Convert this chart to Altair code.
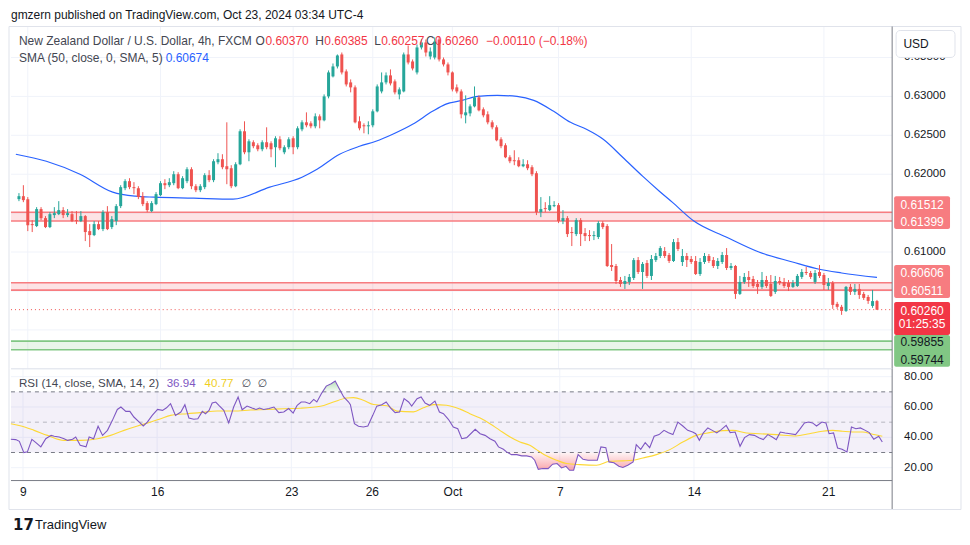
import altair as alt
import pandas as pd

# ---------------- data ----------------
opens = [
    0.61680, 0.61718, 0.61680, 0.61359, 0.61334, 0.61552, 0.61436, 0.61321, 0.61475, 0.61487,
    0.61539, 0.61475, 0.61487, 0.61410, 0.61398, 0.61462, 0.61269, 0.61218, 0.61359, 0.61295,
    0.61513, 0.61321, 0.61398, 0.61590, 0.61821, 0.61911, 0.61834, 0.61821, 0.61718, 0.61629,
    0.61526, 0.61616, 0.61731, 0.61885, 0.61859, 0.61885, 0.62000, 0.61821, 0.61911, 0.62064,
    0.61846, 0.61795, 0.61834, 0.61988, 0.61924, 0.62154, 0.62193, 0.62103, 0.62077, 0.61846,
    0.62128, 0.62552, 0.62282, 0.62411, 0.62372, 0.62321, 0.62411, 0.62398, 0.62347, 0.62449,
    0.62282, 0.62347, 0.62462, 0.62347, 0.62577, 0.62667, 0.62654, 0.62616, 0.62744, 0.62693,
    0.63000, 0.63257, 0.63385, 0.63539, 0.63321, 0.63180, 0.63116, 0.62680, 0.62629, 0.62616,
    0.62629, 0.62808, 0.63064, 0.63180, 0.63270, 0.63193, 0.63026, 0.63064, 0.63539, 0.63449,
    0.63308, 0.63629, 0.63693, 0.63513, 0.63500, 0.63731, 0.63475, 0.63411, 0.63308, 0.63116,
    0.63064, 0.62757, 0.62782, 0.62872, 0.62988, 0.62834, 0.62770, 0.62667, 0.62603, 0.62449,
    0.62372, 0.62218, 0.62180, 0.62180, 0.62103, 0.62128, 0.62090, 0.62013, 0.61513, 0.61565,
    0.61539, 0.61590, 0.61603, 0.61398, 0.61436, 0.61257, 0.61231, 0.61410, 0.61244, 0.61218,
    0.61205, 0.61193, 0.61372, 0.61334, 0.60834, 0.60821, 0.60641, 0.60590, 0.60616, 0.60667,
    0.60897, 0.60744, 0.60859, 0.60693, 0.60897, 0.60949, 0.61013, 0.60962, 0.60885, 0.61128,
    0.60872, 0.60949, 0.60911, 0.60885, 0.60718, 0.60872, 0.60949, 0.60897, 0.60821, 0.60872,
    0.60962, 0.60795, 0.60821, 0.60462, 0.60616, 0.60680, 0.60654, 0.60590, 0.60552, 0.60641,
    0.60590, 0.60488, 0.60628, 0.60616, 0.60603, 0.60552, 0.60564, 0.60680, 0.60744, 0.60731,
    0.60616, 0.60744, 0.60705, 0.60564, 0.60603, 0.60334, 0.60296, 0.60244, 0.60552, 0.60488,
    0.60526, 0.60462, 0.60423, 0.60308, 0.60370,
]
highs = [
    0.61757, 0.61859, 0.61706, 0.61410, 0.61577, 0.61577, 0.61462, 0.61513, 0.61577, 0.61654,
    0.61577, 0.61552, 0.61526, 0.61526, 0.61526, 0.61475, 0.61359, 0.61398, 0.61398, 0.61539,
    0.61590, 0.61462, 0.61616, 0.61859, 0.61936, 0.61949, 0.61898, 0.61846, 0.61770, 0.61654,
    0.61654, 0.61770, 0.61911, 0.61936, 0.61949, 0.62039, 0.62026, 0.61975, 0.62090, 0.62090,
    0.61872, 0.61872, 0.62013, 0.62052, 0.62193, 0.62270, 0.62257, 0.62667, 0.62116, 0.62154,
    0.62577, 0.62680, 0.62449, 0.62436, 0.62398, 0.62436, 0.62603, 0.62423, 0.62488, 0.62488,
    0.62372, 0.62475, 0.62488, 0.62616, 0.62693, 0.62795, 0.62680, 0.62782, 0.62769, 0.63026,
    0.63334, 0.63423, 0.63539, 0.63564, 0.63347, 0.63218, 0.63141, 0.62744, 0.62654, 0.62680,
    0.62834, 0.63154, 0.63308, 0.63308, 0.63347, 0.63218, 0.63116, 0.63564, 0.63654, 0.63475,
    0.63667, 0.63731, 0.63731, 0.63629, 0.63757, 0.63770, 0.63500, 0.63436, 0.63321, 0.63154,
    0.63090, 0.63013, 0.62898, 0.63128, 0.63013, 0.62859, 0.62808, 0.62693, 0.62629, 0.62475,
    0.62398, 0.62244, 0.62308, 0.62218, 0.62193, 0.62180, 0.62116, 0.62039, 0.61706, 0.61641,
    0.61718, 0.61654, 0.61629, 0.61539, 0.61462, 0.61321, 0.61436, 0.61436, 0.61308, 0.61282,
    0.61269, 0.61398, 0.61398, 0.61359, 0.61103, 0.60847, 0.60680, 0.60693, 0.60718, 0.60923,
    0.60936, 0.60872, 0.60897, 0.60962, 0.60988, 0.61077, 0.61064, 0.60988, 0.61167, 0.61180,
    0.61039, 0.60988, 0.60949, 0.60949, 0.60923, 0.60988, 0.60975, 0.60936, 0.60923, 0.61000,
    0.61051, 0.60859, 0.60834, 0.60693, 0.60731, 0.60757, 0.60693, 0.60641, 0.60744, 0.60693,
    0.60705, 0.60693, 0.60680, 0.60667, 0.60641, 0.60641, 0.60718, 0.60782, 0.60808, 0.60757,
    0.60769, 0.60834, 0.60731, 0.60667, 0.60628, 0.60360, 0.60321, 0.60564, 0.60590, 0.60590,
    0.60590, 0.60488, 0.60449, 0.60513, 0.60385,
]
lows = [
    0.61654, 0.61641, 0.61269, 0.61257, 0.61321, 0.61410, 0.61308, 0.61308, 0.61436, 0.61475,
    0.61436, 0.61449, 0.61385, 0.61359, 0.61385, 0.61141, 0.61064, 0.61205, 0.61282, 0.61269,
    0.61282, 0.61295, 0.61346, 0.61565, 0.61795, 0.61808, 0.61744, 0.61680, 0.61590, 0.61513,
    0.61513, 0.61603, 0.61718, 0.61808, 0.61834, 0.61859, 0.61808, 0.61808, 0.61885, 0.61808,
    0.61770, 0.61770, 0.61808, 0.61898, 0.61898, 0.62128, 0.62064, 0.61872, 0.61821, 0.61834,
    0.62116, 0.62257, 0.62167, 0.62334, 0.62295, 0.62295, 0.62321, 0.62218, 0.62090, 0.62308,
    0.62257, 0.62321, 0.62257, 0.62321, 0.62552, 0.62603, 0.62590, 0.62590, 0.62590, 0.62680,
    0.62975, 0.63244, 0.63359, 0.63282, 0.63128, 0.63052, 0.62654, 0.62564, 0.62526, 0.62513,
    0.62603, 0.62795, 0.63039, 0.63154, 0.63141, 0.63026, 0.62962, 0.63052, 0.63411, 0.63334,
    0.63282, 0.63603, 0.63513, 0.63475, 0.63475, 0.63449, 0.63385, 0.63270, 0.63064, 0.63039,
    0.62718, 0.62654, 0.62744, 0.62859, 0.62808, 0.62731, 0.62641, 0.62577, 0.62423, 0.62334,
    0.62206, 0.62142, 0.62116, 0.62090, 0.62090, 0.62052, 0.61975, 0.61475, 0.61449, 0.61513,
    0.61526, 0.61577, 0.61372, 0.61359, 0.61193, 0.61077, 0.61205, 0.61077, 0.61141, 0.61141,
    0.61154, 0.61167, 0.61295, 0.60808, 0.60757, 0.60590, 0.60552, 0.60526, 0.60577, 0.60641,
    0.60718, 0.60526, 0.60667, 0.60641, 0.60872, 0.60923, 0.60923, 0.60859, 0.60872, 0.61013,
    0.60821, 0.60808, 0.60847, 0.60705, 0.60693, 0.60847, 0.60859, 0.60795, 0.60782, 0.60847,
    0.60769, 0.60769, 0.60398, 0.60449, 0.60590, 0.60552, 0.60539, 0.60462, 0.60526, 0.60539,
    0.60423, 0.60462, 0.60577, 0.60539, 0.60500, 0.60539, 0.60552, 0.60654, 0.60705, 0.60654,
    0.60590, 0.60667, 0.60513, 0.60513, 0.60270, 0.60270, 0.60193, 0.60231, 0.60449, 0.60449,
    0.60398, 0.60385, 0.60334, 0.60283, 0.60257,
]
closes = [
    0.61718, 0.61667, 0.61346, 0.61346, 0.61552, 0.61436, 0.61321, 0.61487, 0.61500, 0.61539,
    0.61475, 0.61500, 0.61398, 0.61398, 0.61462, 0.61257, 0.61218, 0.61359, 0.61295, 0.61513,
    0.61295, 0.61423, 0.61590, 0.61834, 0.61911, 0.61834, 0.61821, 0.61706, 0.61616, 0.61539,
    0.61629, 0.61744, 0.61885, 0.61859, 0.61898, 0.62000, 0.61821, 0.61949, 0.62064, 0.61846,
    0.61795, 0.61846, 0.61988, 0.61924, 0.62167, 0.62193, 0.62090, 0.62064, 0.61846, 0.62128,
    0.62552, 0.62282, 0.62423, 0.62360, 0.62321, 0.62411, 0.62347, 0.62321, 0.62462, 0.62334,
    0.62347, 0.62449, 0.62347, 0.62590, 0.62667, 0.62629, 0.62616, 0.62744, 0.62693, 0.63000,
    0.63308, 0.63385, 0.63526, 0.63308, 0.63154, 0.63116, 0.62667, 0.62590, 0.62616, 0.62629,
    0.62808, 0.63128, 0.63180, 0.63270, 0.63167, 0.63052, 0.63090, 0.63539, 0.63436, 0.63359,
    0.63629, 0.63693, 0.63564, 0.63577, 0.63705, 0.63475, 0.63411, 0.63308, 0.63090, 0.63064,
    0.62770, 0.62795, 0.62872, 0.62988, 0.62821, 0.62757, 0.62667, 0.62603, 0.62436, 0.62360,
    0.62218, 0.62167, 0.62167, 0.62103, 0.62128, 0.62077, 0.62000, 0.61513, 0.61552, 0.61552,
    0.61603, 0.61603, 0.61398, 0.61436, 0.61231, 0.61244, 0.61410, 0.61231, 0.61205, 0.61205,
    0.61218, 0.61372, 0.61321, 0.60821, 0.60808, 0.60628, 0.60590, 0.60628, 0.60680, 0.60897,
    0.60744, 0.60847, 0.60693, 0.60911, 0.60949, 0.61051, 0.60949, 0.60885, 0.61128, 0.61039,
    0.60949, 0.60897, 0.60872, 0.60718, 0.60872, 0.60949, 0.60885, 0.60821, 0.60885, 0.60962,
    0.60795, 0.60821, 0.60462, 0.60616, 0.60680, 0.60641, 0.60564, 0.60552, 0.60641, 0.60564,
    0.60436, 0.60628, 0.60603, 0.60564, 0.60552, 0.60603, 0.60693, 0.60744, 0.60731, 0.60680,
    0.60731, 0.60693, 0.60577, 0.60603, 0.60321, 0.60296, 0.60244, 0.60552, 0.60488, 0.60526,
    0.60449, 0.60411, 0.60372, 0.60370, 0.60260,
]

# SMA(50) read at candle positions
sma_idx = [-0.7, 6.2, 13.8, 21.2, 26.3, 30.6, 39.5, 48.4, 56.7, 64.0, 67.4, 72.5, 77.0, 80.7,
           84.5, 89.0, 93.5, 96.4, 100.2, 103.7, 108.2, 112.6, 116.4, 120.9, 124.7, 128.3,
           132.1, 136.5, 141.0, 144.8, 147.7, 152.6, 159.9, 167.3, 174.9, 180.7, 186.0, 194.0]
sma_val = [0.62257, 0.62167, 0.62000, 0.61770, 0.61718, 0.61705, 0.61693, 0.61680, 0.61834,
           0.61962, 0.62064, 0.62257, 0.62359, 0.62423, 0.62513, 0.62641, 0.62808, 0.62898,
           0.62949, 0.63000, 0.63013, 0.63000, 0.62949, 0.62808, 0.62667, 0.62577, 0.62449,
           0.62218, 0.61975, 0.61782, 0.61641, 0.61398, 0.61193, 0.61000, 0.60872, 0.60782,
           0.60731, 0.60674]

# RSI(14)
rsi_idx = [-0.7, 0.4, 1.2, 2.2, 3.0, 4.0, 4.9, 6.0, 7.1, 8.3, 9.0, 10.1, 11.2, 12.0, 13.1, 13.8,
           14.8, 16.1, 16.8, 17.8, 18.8, 19.8, 20.9, 22.0, 23.1, 23.9, 25.0, 25.9, 26.8, 28.0,
           28.9, 29.8, 30.9, 32.1, 33.2, 34.1, 35.0, 36.1, 37.3, 38.2, 39.1, 40.2, 41.1, 42.1,
           42.8, 43.6, 44.3, 45.1, 45.8, 46.9, 48.0, 49.1, 50.1, 51.0, 52.1, 53.2, 54.1, 54.9,
           55.8, 57.0, 58.1, 59.2, 60.3, 61.4, 62.4, 63.3, 64.2, 65.1, 66.1, 67.0, 67.7, 68.7,
           69.8, 70.9, 71.8, 72.8, 73.7, 74.8, 75.2, 76.1, 77.0, 78.1, 79.1, 80.2, 81.1, 82.2,
           83.2, 84.2, 85.2, 86.2, 87.2, 88.2, 88.9, 90.1, 91.0, 91.9, 92.9, 94.1, 95.1, 96.0,
           97.1, 98.2, 99.2, 100.1, 101.2, 103.1, 104.2, 105.3, 106.4, 107.5, 108.3, 109.4,
           110.1, 111.2, 112.4, 113.5, 114.6, 115.7, 116.4, 117.2, 118.2, 119.4, 120.4, 121.4,
           122.4, 123.4, 124.2, 125.1, 126.1, 127.2, 128.3, 129.4, 130.4, 131.2, 132.3, 133.0,
           134.1, 135.2, 136.1, 137.2, 138.4, 139.1, 140.1, 141.1, 142.1, 143.1, 144.2, 145.3,
           146.3, 147.3, 148.4, 149.5, 150.6, 151.7, 152.4, 153.2, 154.1, 155.1, 156.1, 157.1,
           158.1, 159.2, 160.1, 161.2, 162.3, 163.3, 164.4, 165.5, 166.6, 167.5, 168.5, 169.5,
           170.4, 171.3, 172.4, 173.5, 174.7, 175.6, 176.7, 177.6, 178.5, 179.4, 180.6, 181.5,
           182.2, 183.2, 184.1, 185.1, 186.2, 187.2, 188.2, 189.2, 190.3, 191.2, 192.2, 193.3,
           194.1]
rsi_val = [38.7, 38.5, 37.4, 29.9, 30.4, 38.7, 36.5, 33.7, 39.1, 41.3, 40.7, 40.2, 39.1, 38.0,
           38.7, 40.2, 34.8, 33.7, 40.2, 39.1, 47.3, 41.3, 44.6, 51.2, 58.4, 60.0, 57.1, 57.1,
           53.4, 50.1, 47.5, 50.1, 54.5, 58.4, 57.8, 59.5, 62.2, 54.5, 56.7, 61.5, 52.8, 51.9,
           52.3, 57.1, 55.6, 57.8, 62.6, 63.3, 61.1, 57.8, 49.5, 60.0, 66.6, 58.2, 60.6, 59.3,
           58.4, 59.3, 58.4, 59.0, 60.0, 56.3, 56.7, 59.0, 56.0, 61.1, 63.3, 63.3, 62.2, 65.0,
           63.3, 68.8, 73.8, 75.3, 77.1, 71.6, 66.6, 63.3, 61.5, 49.0, 47.3, 46.8, 47.5, 54.5,
           60.6, 61.5, 63.3, 59.3, 56.3, 56.7, 65.5, 63.3, 60.6, 65.5, 66.6, 62.6, 61.1, 63.9,
           56.7, 55.6, 51.9, 46.8, 45.7, 39.1, 39.8, 45.3, 42.4, 41.3, 39.1, 37.4, 33.7, 32.1,
           30.4, 28.6, 28.6, 27.8, 27.8, 27.1, 24.9, 18.9, 19.4, 19.4, 22.3, 22.7, 19.8, 20.9,
           18.3, 18.3, 28.6, 25.5, 24.9, 24.9, 24.9, 33.7, 33.2, 23.8, 23.2, 20.9, 20.1, 21.6,
           23.8, 35.2, 32.1, 36.5, 33.2, 40.7, 41.8, 44.6, 43.1, 41.8, 50.1, 47.5, 44.6, 43.5,
           42.4, 38.0, 42.9, 46.2, 44.6, 42.9, 45.1, 47.9, 43.1, 43.5, 34.1, 39.8, 41.8, 41.3,
           39.6, 38.5, 41.8, 40.2, 38.5, 43.5, 42.9, 42.4, 41.8, 45.1, 49.5, 50.1, 49.5, 47.5,
           50.1, 49.5, 42.4, 42.9, 33.0, 32.1, 30.4, 46.8, 45.7, 46.2, 44.6, 43.1, 38.7, 40.7,
           36.94]

# RSI-based moving average
rsima_idx = [-0.7, 1.6, 4.5, 7.5, 11.2, 14.9, 18.7, 21.6, 24.6, 27.6, 30.6, 32.8, 35.0, 38.7,
             41.7, 45.4, 49.1, 52.9, 56.6, 60.3, 64.0, 68.5, 71.4, 74.4, 75.9, 78.1, 80.4,
             83.4, 85.6, 89.3, 91.5, 93.8, 96.7, 99.7, 101.9, 104.2, 106.4, 108.6, 110.9,
             113.1, 115.3, 116.8, 119.0, 121.3, 123.5, 126.5, 130.2, 133.2, 136.1, 138.4,
             140.6, 143.6, 146.6, 149.5, 152.5, 155.5, 158.4, 160.7, 163.7, 166.6, 170.4,
             174.8, 177.8, 180.7, 183.0, 185.2, 187.4, 189.7, 191.9, 194.1]
rsima_val = [49.0, 47.5, 44.6, 41.3, 38.0, 38.0, 39.1, 41.3, 44.6, 47.5, 50.1, 52.3, 54.5, 55.6,
             56.3, 57.4, 57.4, 58.0, 58.4, 58.9, 59.2, 60.5, 63.3, 65.9, 66.2, 64.5, 61.6,
             60.8, 57.3, 56.8, 59.5, 61.6, 61.2, 58.6, 55.6, 52.7, 49.0, 44.6, 40.2, 36.9,
             34.8, 31.9, 27.8, 24.9, 22.7, 22.0, 21.6, 24.2, 24.5, 24.9, 26.4, 28.6, 31.9,
             36.9, 41.3, 43.1, 44.4, 44.6, 42.9, 42.4, 41.8, 40.9, 42.4, 44.0, 44.6, 44.0,
             43.5, 43.5, 42.0, 40.77]

tick_idx = [2, 32, 62, 80, 98, 122, 152, 182]
tick_lab = ["9", "16", "23", "26", "Oct", "7", "14", "21"]

price_grid = [0.595, 0.600, 0.605, 0.610, 0.615, 0.620, 0.625, 0.630, 0.635]
price_labels = [0.610, 0.620, 0.625, 0.630, 0.635]
rsi_grid = [20, 40, 60, 80]

red_zone_lo = [0.61399, 0.60511]
red_zone_hi = [0.61512, 0.60606]
green_zone_lo = [0.59744]
green_zone_hi = [0.59855]
last_price = closes[-1]
countdown = "01:25:35"

# ---------------- styling ----------------
FONT = "Liberation Sans"
UP, DOWN = "#26a69a", "#ef5350"
GRID = "#f0f3fa"
BORDER = "#e0e3eb"
AXLINE = "#787b86"
TXT = "#131722"
W, H1, H2 = 883, 343, 112
XS = alt.Scale(domain=[-0.67, 196.3], nice=False, zero=False)
PS = alt.Scale(domain=[0.595, 0.63898], nice=False, zero=False)
RS = alt.Scale(domain=[11.5, 85.2], nice=False, zero=False)
ONE = pd.DataFrame({"k": [0]})


def txt(s, x, y, color=TXT, size=12, align="left", baseline="middle", weight="normal", font=FONT):
    return alt.Chart(ONE).mark_text(text=s, align=align, baseline=baseline, font=font,
                                    fontSize=size, color=color, fontWeight=weight).encode(
        x=alt.value(x), y=alt.value(y))


def hline(x1, x2, y, color, width=1):
    return alt.Chart(ONE).mark_rule(color=color, strokeWidth=width).encode(
        x=alt.value(x1), x2=alt.value(x2), y=alt.value(y))


def vline(x, y1, y2, color, width=1):
    return alt.Chart(ONE).mark_rule(color=color, strokeWidth=width).encode(
        x=alt.value(x), y=alt.value(y1), y2=alt.value(y2))


def price_box(p_top, p_bot, off_top, off_bot, fill):
    d = pd.DataFrame({"a": [p_top], "b": [p_bot]})
    return alt.Chart(d).mark_rect(color=fill, yOffset=off_top, y2Offset=off_bot, cornerRadius=2).encode(
        x=alt.value(885), x2=alt.value(941), y=alt.Y("a:Q", scale=PS, axis=None), y2="b:Q")


def price_tag(p, dy, s, color="white"):
    d = pd.DataFrame({"p": [p]})
    return alt.Chart(d).mark_text(text=s, dy=dy, align="center", baseline="middle", font=FONT,
                                  fontSize=12, color=color).encode(
        x=alt.value(913), y=alt.Y("p:Q", scale=PS, axis=None))


# ---------------- price pane ----------------
XP = alt.X("idx:Q", scale=XS, axis=None)

pgrid = alt.Chart(pd.DataFrame({"p": price_grid})).mark_rule(color=GRID).encode(
    y=alt.Y("p:Q", scale=PS, axis=None), x=alt.value(0), x2=alt.value(W))
vgrid_p = alt.Chart(pd.DataFrame({"idx": tick_idx})).mark_rule(color=GRID).encode(
    x=XP, y=alt.value(0), y2=alt.value(H1))
plab_df = pd.DataFrame({"p": price_labels, "lab": [f"{v:.5f}" for v in price_labels]})
plabels = alt.Chart(plab_df).mark_text(align="left", baseline="middle", font=FONT, fontSize=11.5,
                                       color=TXT).encode(
    x=alt.value(895), y=alt.Y("p:Q", scale=PS, axis=None), text="lab:N")

rz = pd.DataFrame({"lo": red_zone_lo, "hi": red_zone_hi})
rz_fill = alt.Chart(rz).mark_rect(color="#f23645", opacity=0.14).encode(
    x=alt.value(0), x2=alt.value(W), y=alt.Y("hi:Q", scale=PS, axis=None), y2="lo:Q")
rz_lines = alt.Chart(pd.DataFrame({"p": red_zone_lo + red_zone_hi})).mark_rule(
    color="#f77c80", strokeWidth=1.6).encode(
    y=alt.Y("p:Q", scale=PS, axis=None), x=alt.value(0), x2=alt.value(W))
gz = pd.DataFrame({"lo": green_zone_lo, "hi": green_zone_hi})
gz_fill = alt.Chart(gz).mark_rect(color="#4caf50", opacity=0.12).encode(
    x=alt.value(0), x2=alt.value(W), y=alt.Y("hi:Q", scale=PS, axis=None), y2="lo:Q")
gz_lines = alt.Chart(pd.DataFrame({"p": green_zone_lo + green_zone_hi})).mark_rule(
    color="#81c784", strokeWidth=1.6).encode(
    y=alt.Y("p:Q", scale=PS, axis=None), x=alt.value(0), x2=alt.value(W))

last_line = alt.Chart(pd.DataFrame({"p": [last_price]})).mark_rule(
    color=DOWN, strokeDash=[1, 3], strokeWidth=1).encode(
    y=alt.Y("p:Q", scale=PS, axis=None), x=alt.value(0), x2=alt.value(W))

sma = alt.Chart(pd.DataFrame({"idx": sma_idx, "v": sma_val})).mark_line(
    color="#2962ff", strokeWidth=1.2, interpolate="monotone").encode(
    x=XP, y=alt.Y("v:Q", scale=PS, axis=None))

cdf = pd.DataFrame({"idx": list(range(len(closes))), "open": opens, "high": highs,
                    "low": lows, "close": closes})
cdf["dir"] = ["up" if c >= o else "down" for o, c in zip(opens, closes)]
ccol = alt.Color("dir:N", scale=alt.Scale(domain=["up", "down"], range=[UP, DOWN]), legend=None)
wicks = alt.Chart(cdf).mark_rule(strokeWidth=1).encode(
    x=XP, y=alt.Y("low:Q", scale=PS, axis=None), y2="high:Q", color=ccol)
bodies = alt.Chart(cdf).mark_bar(size=3).encode(
    x=XP, y=alt.Y("open:Q", scale=PS, axis=None), y2="close:Q", color=ccol)

chg = closes[-1] - closes[-2]
pct = chg / closes[-2] * 100
chg_s = f"{chg:+.5f} ({pct:+.2f}%)".replace("-", "\u2212")
RED_T = "#f23645"
HGRAY = "#434651"

header = [
    txt("gmzern published on TradingView.com, Oct 23, 2024 03:34 UTC-4", 0, -12, size=12),
    txt("New Zealand Dollar / U.S. Dollar, 4h, FXCM", 8, 15, color=HGRAY),
    txt("O", 245, 15, color=HGRAY), txt(f"{opens[-1]:.5f}", 255, 15, color=RED_T),
    txt("H", 305, 15, color=HGRAY), txt(f"{highs[-1]:.5f}", 314, 15, color=RED_T),
    txt("L", 364, 15, color=HGRAY), txt(f"{lows[-1]:.5f}", 371, 15, color=RED_T),
    txt("C", 416, 15, color=HGRAY), txt(f"{closes[-1]:.5f}", 425, 15, color=RED_T),
    txt(chg_s, 476, 15, color=RED_T),
    txt("SMA (50, close, 0, SMA, 5)", 8, 32, color=HGRAY),
    txt(f"{sma_val[-1]:.5f}", 155, 32, color="#2962ff"),
]

boxes = [
    price_box(red_zone_hi[0], red_zone_lo[0], -16, 8, "#f77c80"),
    price_tag(red_zone_hi[0], -7.4, f"{red_zone_hi[0]:.5f}"),
    price_tag(red_zone_lo[0], 0.8, f"{red_zone_lo[0]:.5f}"),
    price_box(red_zone_hi[1], red_zone_lo[1], -17.7, 8, "#f77c80"),
    price_tag(red_zone_hi[1], -9.7, f"{red_zone_hi[1]:.5f}"),
    price_tag(red_zone_lo[1], 0.6, f"{red_zone_lo[1]:.5f}"),
    price_box(green_zone_hi[0], green_zone_lo[0], -6.3, 17, "#81c784"),
    price_tag(green_zone_hi[0], 1, f"{green_zone_hi[0]:.5f}", TXT),
    price_tag(green_zone_lo[0], 10, f"{green_zone_lo[0]:.5f}", TXT),
    price_box(last_price, last_price, -7.7, 25.3, "#f23645"),
    price_tag(last_price, 1, f"{last_price:.5f}"),
    price_tag(last_price, 14.3, countdown),
]

usd_box = alt.Chart(ONE).mark_rect(fill="white", stroke=BORDER, strokeWidth=1, cornerRadius=4).encode(
    x=alt.value(887), x2=alt.value(946), y=alt.value(4), y2=alt.value(31))

frame_p = [
    hline(-2, 952, 0, BORDER),
    vline(-2, 0, H1, BORDER),
    vline(952, 0, H1, BORDER),
    vline(W, 0, H1, AXLINE),
]

price = alt.layer(
    pgrid, vgrid_p, rz_fill, gz_fill, rz_lines, gz_lines, last_line, sma, wicks, bodies,
    plabels, *header, *frame_p, *boxes, usd_box, txt("USD", 907, 18, size=12, align="center"),
).properties(width=W, height=H1)

# ---------------- RSI pane ----------------
lab_expr = ("[" + ",".join("'" + s + "'" for s in tick_lab) + "][indexof(["
            + ",".join(str(v) for v in tick_idx) + "], datum.value)]")
XR = alt.X("idx:Q", scale=XS, axis=alt.Axis(
    orient="bottom", values=tick_idx, labelExpr=lab_expr, ticks=False, domain=False, grid=False,
    labelFont=FONT, labelFontSize=12, labelColor=TXT, labelPadding=6, title=None,
    labelFlush=False, labelOverlap=False, zindex=0))

rgrid = alt.Chart(pd.DataFrame({"v": rsi_grid})).mark_rule(color=GRID).encode(
    y=alt.Y("v:Q", scale=RS, axis=None), x=alt.value(0), x2=alt.value(W))
rlab_df = pd.DataFrame({"v": rsi_grid, "lab": [f"{v:.2f}" for v in rsi_grid]})
rlabels = alt.Chart(rlab_df).mark_text(align="left", baseline="middle", font=FONT, fontSize=11.5,
                                       color=TXT).encode(
    x=alt.value(895), y=alt.Y("v:Q", scale=RS, axis=None), text="lab:N")
vgrid_r = alt.Chart(pd.DataFrame({"idx": tick_idx})).mark_rule(color=GRID).encode(
    x=XR, y=alt.value(0), y2=alt.value(H2))
band = alt.Chart(pd.DataFrame({"hi": [70], "lo": [30]})).mark_rect(color="#7e57c2", opacity=0.09).encode(
    x=alt.value(0), x2=alt.value(W), y=alt.Y("hi:Q", scale=RS, axis=None), y2="lo:Q")
bounds_l = alt.Chart(pd.DataFrame({"v": [70, 30]})).mark_rule(
    color=AXLINE, strokeDash=[4, 4], strokeWidth=1).encode(
    y=alt.Y("v:Q", scale=RS, axis=None), x=alt.value(0), x2=alt.value(W))
mid_l = alt.Chart(pd.DataFrame({"v": [50]})).mark_rule(
    color=AXLINE, strokeDash=[4, 4], strokeWidth=1, opacity=0.5).encode(
    y=alt.Y("v:Q", scale=RS, axis=None), x=alt.value(0), x2=alt.value(W))

rdf = pd.DataFrame({"idx": rsi_idx, "v": rsi_val})
under = alt.Chart(rdf).transform_calculate(lo="min(datum.v, 30)", base="30").mark_area(
    color=alt.Gradient(gradient="linear", x1=0, x2=0, y1=0, y2=1, stops=[
        alt.GradientStop(color="rgba(242,54,69,0.05)", offset=0),
        alt.GradientStop(color="rgba(242,54,69,0.45)", offset=1)])).encode(
    x=XR, y=alt.Y("lo:Q", scale=RS, axis=None), y2="base:Q")
over = alt.Chart(rdf).transform_calculate(hi="max(datum.v, 70)", base="70").mark_area(
    color=alt.Gradient(gradient="linear", x1=0, x2=0, y1=0, y2=1, stops=[
        alt.GradientStop(color="rgba(76,175,80,0.4)", offset=0),
        alt.GradientStop(color="rgba(76,175,80,0.05)", offset=1)])).encode(
    x=XR, y=alt.Y("hi:Q", scale=RS, axis=None), y2="base:Q")
rsima = alt.Chart(pd.DataFrame({"idx": rsima_idx, "v": rsima_val})).mark_line(
    color="#fdd835", strokeWidth=1.1, interpolate="monotone").encode(
    x=XR, y=alt.Y("v:Q", scale=RS, axis=None))
rsi_line = alt.Chart(rdf).mark_line(color="#7e57c2", strokeWidth=1.1).encode(
    x=XR, y=alt.Y("v:Q", scale=RS, axis=None))

rsi_head = [
    txt("RSI (14, close, SMA, 14, 2)", 8, 15, color=HGRAY, size=11.6),
    txt(f"{rsi_val[-1]:.2f}", 156, 15, color="#7e57c2", size=11.6),
    txt(f"{rsima_val[-1]:.2f}", 194, 15, color="#f0cf1e", size=11.6),
    txt("\u2205", 231, 15, color=HGRAY, font="DejaVu Sans", size=11),
    txt("\u2205", 247, 15, color=HGRAY, font="DejaVu Sans", size=11),
]
frame_r = [
    hline(0, W, 0, BORDER),
    vline(-2, 0, 141, BORDER),
    vline(952, 0, 141, BORDER),
    vline(W, 0, 141, AXLINE),
    hline(0, W, H2, AXLINE),
    hline(-2, 952, 141, BORDER),
    txt("17", 2, 157, color=TXT, size=15, weight="bold", font="DejaVu Sans"),
    txt("TradingView", 24, 157, color=TXT, size=13),
]

rsi = alt.layer(
    rgrid, vgrid_r, band, bounds_l, mid_l, under, over, rsima, rsi_line, rlabels, *rsi_head,
    *frame_r,
).properties(width=W, height=H2)

chart = alt.vconcat(price, rsi, spacing=0, bounds="flush").properties(
    padding=0, background="white").configure_view(stroke=None)

chart.save("out.html", embed_options={"renderer": "svg", "actions": False})
